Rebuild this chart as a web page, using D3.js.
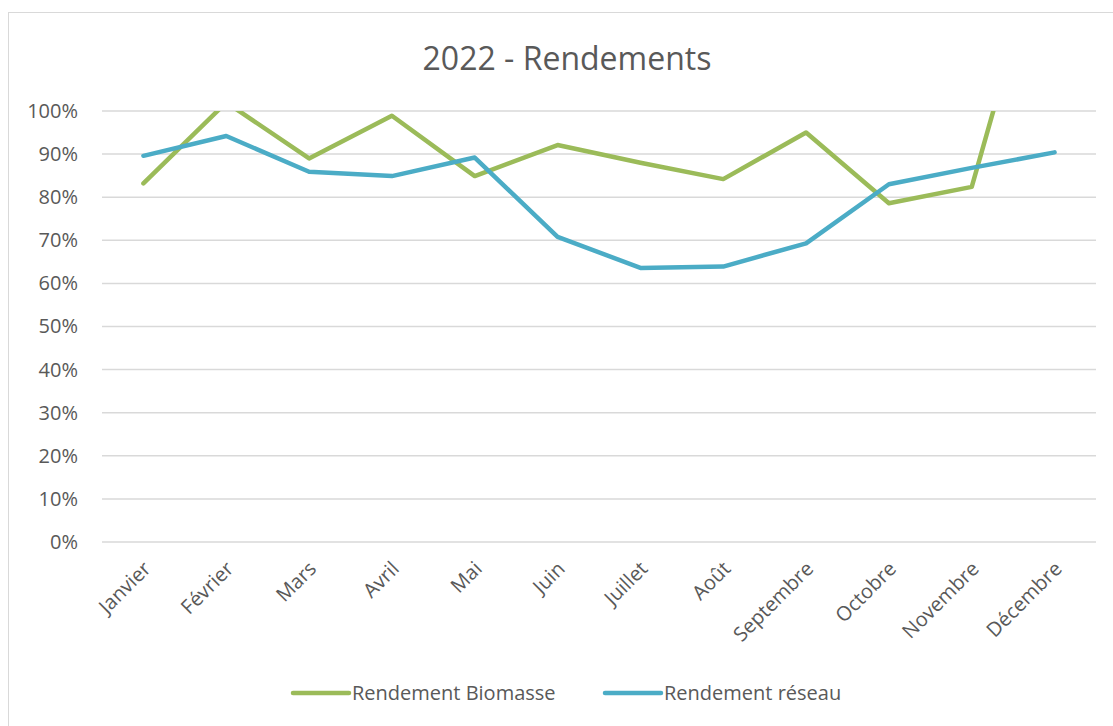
<!DOCTYPE html>
<html>
<head>
<meta charset="utf-8">
<script src="https://cdn.jsdelivr.net/npm/d3@7"></script>
<style>
body { margin: 0; background: #fff; }
svg { display: block; font-family: "Open Sans", sans-serif; }
</style>
</head>
<body>
<svg id="chart" width="1113" height="726"></svg>
<script>
var mois = ["Janvier","Février","Mars","Avril","Mai","Juin","Juillet","Août","Septembre","Octobre","Novembre","Décembre"];
var biomasse = [0.832, 1.02, 0.89, 0.989, 0.849, 0.921, 0.88, 0.842, 0.95, 0.786, 0.824, 1.50];
var reseau = [0.896, 0.942, 0.859, 0.849, 0.892, 0.708, 0.636, 0.639, 0.693, 0.830, 0.868, 0.904];
var yTicks = [0,0.1,0.2,0.3,0.4,0.5,0.6,0.7,0.8,0.9,1];
var series = ["Rendement Biomasse","Rendement réseau"];
var couleurs = ["#9bbb59","#4bacc6"];

var margin = {top: 111, left: 102, right: 17, bottom: 184};
var width = 1113 - margin.left - margin.right,
    height = 726 - margin.top - margin.bottom;

var svg = d3.select("#chart");

// cadre du graphique
svg.append("rect")
  .attr("x", 8.5).attr("y", 12.5)
  .attr("width", 1120).attr("height", 730)
  .attr("fill", "none").attr("stroke", "#d9d9d9").attr("stroke-width", 1);

svg.append("text")
  .attr("x", 567).attr("y", 70)
  .attr("text-anchor", "middle")
  .attr("font-size", "32px")
  .attr("fill", "#595959")
  .text("2022 - Rendements");

var g = svg.append("g").attr("transform", "translate(" + margin.left + "," + margin.top + ")");

var x = d3.scalePoint().domain(mois).range([0, width]).padding(0.5);
var y = d3.scaleLinear().domain([0, 1]).range([height, 0]);

// grille
g.selectAll(".grid").data(yTicks).enter()
  .append("line")
  .attr("class", "grid")
  .attr("x1", 0).attr("x2", width)
  .attr("y1", function(d){ return y(d); })
  .attr("y2", function(d){ return y(d); })
  .attr("stroke", "#d9d9d9").attr("stroke-width", 1.5);

// axe Y
var yAxis = g.append("g").call(d3.axisLeft(y).tickValues(yTicks).tickFormat(d3.format(".0%")).tickSize(0).tickPadding(24));
yAxis.select(".domain").remove();
yAxis.selectAll("text").attr("font-size", "20px").attr("fill", "#595959").attr("font-family", "Open Sans");

// axe X
var xAxis = g.append("g").attr("transform", "translate(0," + height + ")")
  .call(d3.axisBottom(x).tickSize(0).tickPadding(0));
xAxis.select(".domain").remove();
xAxis.selectAll("text")
  .attr("font-size", "20px").attr("fill", "#595959").attr("font-family", "Open Sans")
  .attr("text-anchor", "end")
  .attr("dy", "0")
  .attr("transform", function(){ return "translate(8,28) rotate(-45)"; });

// clip
svg.append("defs").append("clipPath").attr("id", "zone")
  .append("rect").attr("x", 0).attr("y", 0).attr("width", width).attr("height", height);

var line = d3.line()
  .x(function(d, i){ return x(mois[i]); })
  .y(function(d){ return y(d); });

var plot = g.append("g").attr("clip-path", "url(#zone)");
[biomasse, reseau].forEach(function(s, i){
  plot.append("path")
    .datum(s)
    .attr("d", line)
    .attr("fill", "none")
    .attr("stroke", couleurs[i])
    .attr("stroke-width", 4.5)
    .attr("stroke-linejoin", "round")
    .attr("stroke-linecap", "round");
});

// légende
var legX = [293, 605];
var leg = svg.selectAll(".leg").data(series).enter().append("g")
  .attr("class", "leg")
  .attr("transform", function(d, i){ return "translate(" + legX[i] + ",693)"; });
leg.append("line")
  .attr("x1", 0).attr("x2", 56).attr("y1", 0).attr("y2", 0)
  .attr("stroke", function(d, i){ return couleurs[i]; })
  .attr("stroke-width", 4.5).attr("stroke-linecap", "round");
leg.append("text")
  .attr("x", 59).attr("y", 7)
  .attr("font-size", "20px").attr("fill", "#595959")
  .text(function(d){ return d; });
</script>
</body>
</html>
